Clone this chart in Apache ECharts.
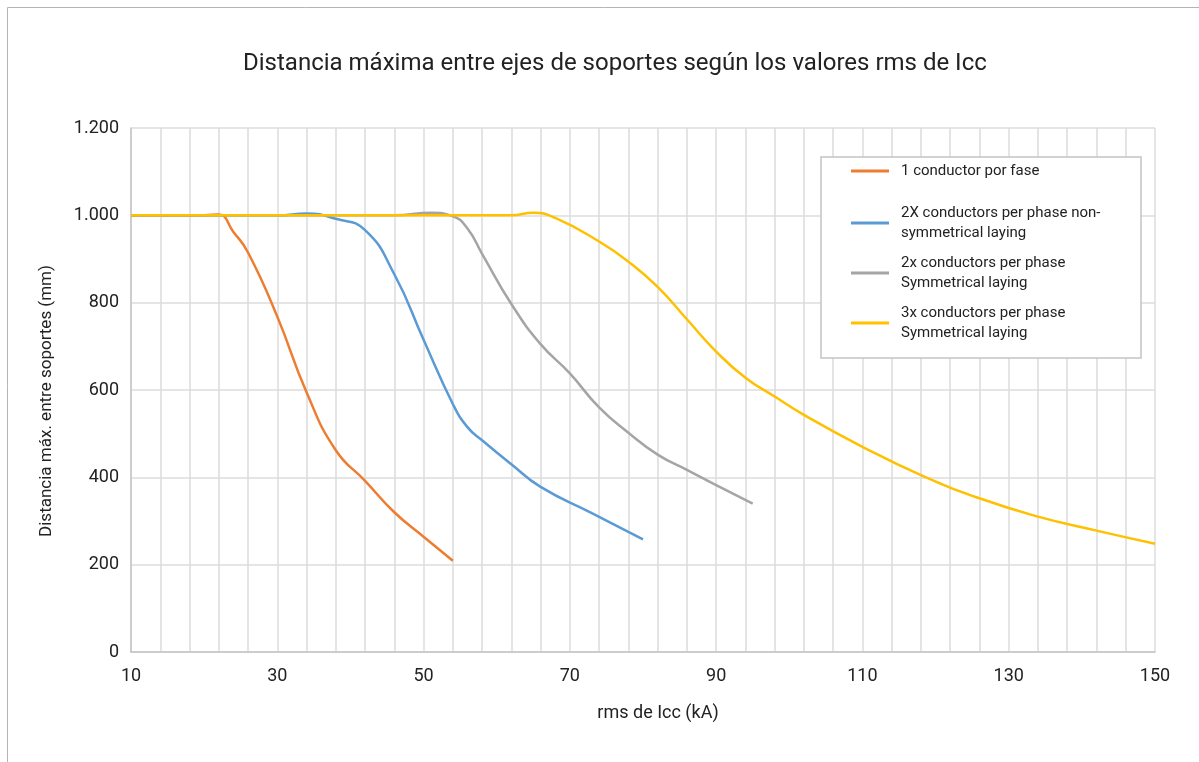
<!DOCTYPE html>
<html>
<head>
<meta charset="utf-8">
<script src="https://cdn.jsdelivr.net/npm/echarts@6/dist/echarts.min.js"></script>
<style>
  html, body { margin: 0; padding: 0; background: #ffffff; }
  #chart { width: 1199px; height: 762px; }
</style>
</head>
<body>
<div id="chart"></div>
<script>
// Rated short-circuit current (kA) and maximum support spacing (mm) per configuration
const oneCondKA   = [10, 20, 22, 24, 26, 30, 34, 38, 42, 46, 50, 54];
const oneCondMM   = [1000, 1000, 1002, 962, 915, 768, 595, 462, 392, 320, 264, 209];

const twoNonSymKA = [10, 30, 34, 38, 42, 46, 50, 54, 56, 58, 62, 66, 73, 80];
const twoNonSymMM = [1000, 1000, 1004, 992, 966, 865, 715, 568, 515, 485, 430, 378, 318, 258];

const twoSymKA    = [10, 46, 51, 54, 56, 58, 62, 66, 70, 74, 78, 82, 86, 90, 95];
const twoSymMM    = [1000, 1000, 1006, 998, 970, 912, 797, 705, 638, 560, 502, 452, 417, 382, 340];

const threeSymKA  = [10, 62, 65, 68, 74, 78, 82, 86, 90, 94, 98, 102, 110, 118, 126, 134, 142, 150];
const threeSymMM  = [1000, 1000, 1006, 994, 940, 894, 836, 762, 688, 628, 585, 543, 470, 405, 352, 310, 278, 248];

const seriesNames = [
  '1 conductor por fase',
  '2X conductors per phase non-\nsymmetrical laying',
  '2x conductors per phase\nSymmetrical laying',
  '3x conductors per phase\nSymmetrical laying'
];
const seriesColors = ['#ED7D31', '#5B9BD5', '#A5A5A5', '#FFC000'];

const titleText = 'Distancia máxima entre ejes de soportes según los valores rms de Icc';
const xAxisTitle = 'rms de Icc (kA)';
const yAxisTitle = 'Distancia máx. entre soportes (mm)';

const pair = (xs, ys) => xs.map((x, i) => [x, ys[i]]);
const seriesData = [
  pair(oneCondKA, oneCondMM),
  pair(twoNonSymKA, twoNonSymMM),
  pair(twoSymKA, twoSymMM),
  pair(threeSymKA, threeSymMM)
];

const FONT = 'Roboto';
const TEXT = '#222222';
const GRID = '#dcdcdc';

const chart = echarts.init(document.getElementById('chart'), null, { renderer: 'canvas' });

const legendText = {
  fontFamily: FONT, fontSize: 15, color: TEXT, lineHeight: 20
};

chart.setOption({
  animation: false,
  backgroundColor: '#ffffff',
  textStyle: { fontFamily: FONT },
  title: {
    text: titleText,
    left: 243, top: 52, padding: 0,
    textStyle: { fontFamily: FONT, fontSize: 24, fontWeight: 'normal', color: TEXT }
  },
  graphic: [
    {
      type: 'rect', z: 0, silent: true,
      shape: { x: 7.5, y: 7.5, width: 1400, height: 1000 },
      style: { fill: null, stroke: '#b4b4b4', lineWidth: 1 }
    },
    {
      type: 'rect', z: 3, silent: true,
      shape: { x: 821, y: 157, width: 320, height: 201 },
      style: { fill: '#ffffff', stroke: '#c4c4c4', lineWidth: 1.5 }
    }
  ],
  legend: [
    {
      data: [seriesNames[0]],
      orient: 'vertical', left: 851, top: 161, padding: 0,
      icon: 'rect', itemWidth: 38, itemHeight: 3,
      textStyle: Object.assign({}, legendText, { padding: [0, 0, 0, 7] }),
      z: 5
    },
    {
      data: seriesNames.slice(1),
      orient: 'vertical', left: 851, top: 193, padding: 0,
      icon: 'rect', itemWidth: 38, itemHeight: 3, itemGap: -10,
      textStyle: Object.assign({}, legendText, { padding: [20, 0, 0, 7] }),
      z: 5
    }
  ],
  grid: { left: 131, top: 128, width: 1024, height: 524, containLabel: false },
  xAxis: {
    type: 'value',
    min: 10, max: 150, interval: 20,
    name: xAxisTitle,
    nameLocation: 'middle', nameGap: 52,
    nameTextStyle: { fontFamily: FONT, fontSize: 18, color: TEXT, padding: [0, 0, 0, 30] },
    axisLine: { show: true, lineStyle: { color: '#c4c4c4', width: 1.5 } },
    axisTick: { show: false },
    axisLabel: { fontFamily: FONT, fontSize: 18, color: TEXT, margin: 15 },
    splitLine: { show: true, lineStyle: { color: GRID, width: 1.5 } },
    minorTick: { show: false, splitNumber: 5 },
    minorSplitLine: { show: true, lineStyle: { color: GRID, width: 1.5 } }
  },
  yAxis: {
    type: 'value',
    min: 0, max: 1200, interval: 200,
    name: yAxisTitle,
    nameLocation: 'middle', nameGap: 76, nameRotate: 90,
    nameTextStyle: { fontFamily: FONT, fontSize: 17, color: TEXT, padding: [0, 22, 0, 0] },
    axisLine: { show: true, lineStyle: { color: '#c4c4c4', width: 1.5 } },
    axisTick: { show: false },
    axisLabel: {
      fontFamily: FONT, fontSize: 18, color: TEXT, margin: 12,
      formatter: v => String(v).replace(/\B(?=(\d{3})+(?!\d))/g, '.')
    },
    splitLine: { show: true, lineStyle: { color: GRID, width: 1.5 } }
  },
  series: seriesData.map((d, i) => ({
    name: seriesNames[i],
    type: 'line',
    data: d,
    smooth: 0.5,
    showSymbol: false,
    symbol: 'none',
    color: seriesColors[i],
    lineStyle: { color: seriesColors[i], width: 2.5 },
    z: 2 + i
  }))
});
</script>
</body>
</html>
